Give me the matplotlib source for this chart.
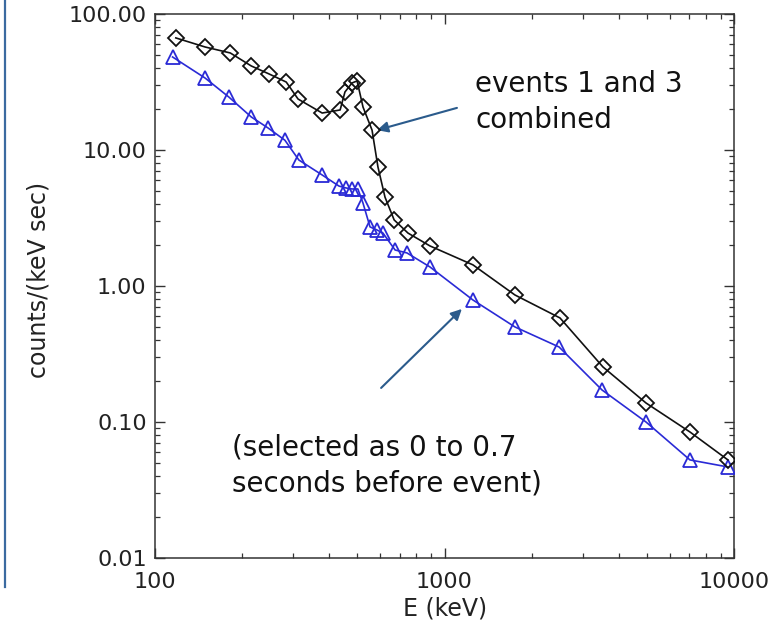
import matplotlib
matplotlib.use("Agg")
import matplotlib.pyplot as plt
from matplotlib.ticker import FixedLocator, FixedFormatter, LogLocator, NullFormatter

# ---- data ----
energy_combined = [118, 149, 182, 215, 248, 284, 312, 378, 436, 453, 479, 499, 523,
                   562, 589, 623, 670, 748, 891, 1254, 1751, 2506, 3526, 4966, 7047, 9530]
counts_combined = [66.7, 57.2, 51.7, 41.5, 36.2, 31.6, 23.7, 18.7, 19.7, 26.7, 31.1, 32.2, 20.7,
                   14.0, 7.5, 4.5, 3.06, 2.45, 1.97, 1.43, 0.859, 0.582, 0.254, 0.138, 0.0844, 0.0526]

energy_before = [115, 149, 180, 215, 246, 281, 314, 378, 432, 457, 479, 502, 523,
                 553, 585, 613, 675, 742, 891, 1254, 1751, 2488, 3500, 4966, 7047, 9530]
counts_before = [48.3, 33.8, 24.5, 17.5, 14.5, 11.8, 8.44, 6.55, 5.43, 5.26, 5.17, 5.17, 4.07,
                 2.72, 2.58, 2.45, 1.84, 1.75, 1.38, 0.789, 0.500, 0.356, 0.172, 0.100, 0.0526, 0.0467]

x_ticks = [100, 1000, 10000]
x_ticklabels = ["100", "1000", "10000"]
y_ticks = [0.01, 0.1, 1, 10, 100]
y_ticklabels = ["0.01", "0.10", "1.00", "10.00", "100.00"]

label_combined = ["events 1 and 3", "combined"]
label_before = ["(selected as 0 to 0.7", "seconds before event)"]

# ---- figure ----
W, H = 778, 627
fig = plt.figure(figsize=(W / 100, H / 100), dpi=100)
ax = fig.add_axes([155 / W, 1 - 558 / H, (734 - 155) / W, (558 - 14) / H])

blue = "#2a2ad6"
ax.plot(energy_before, counts_before, color=blue, lw=1.2, marker="^", ms=10,
        mfc="none", mec=blue, mew=1.3, zorder=3)
ax.plot(energy_combined, counts_combined, color="#111111", lw=1.2, marker="D", ms=8,
        mfc="none", mec="#111111", mew=1.3, zorder=4)

ax.set_xscale("log")
ax.set_yscale("log")
ax.set_xlim(100, 10000)
ax.set_ylim(0.01, 100)

ax.xaxis.set_major_locator(FixedLocator(x_ticks))
ax.xaxis.set_major_formatter(FixedFormatter(x_ticklabels))
ax.yaxis.set_major_locator(FixedLocator(y_ticks))
ax.yaxis.set_major_formatter(FixedFormatter(y_ticklabels))
ax.xaxis.set_minor_locator(LogLocator(base=10, subs=range(2, 10)))
ax.yaxis.set_minor_locator(LogLocator(base=10, subs=range(2, 10)))
ax.xaxis.set_minor_formatter(NullFormatter())
ax.yaxis.set_minor_formatter(NullFormatter())

ax.tick_params(which="both", direction="in", top=True, right=True,
               colors="#333333", labelcolor="#222222", labelsize=16)
ax.tick_params(which="major", length=7, width=1.0, pad=6)
ax.tick_params(axis="x", which="major", pad=10)
ax.tick_params(which="minor", length=3.8, width=0.9)
for s in ax.spines.values():
    s.set_color("#333333")
    s.set_linewidth(1.1)

ax.set_xlabel("E (keV)", fontsize=17, color="#222222", va="center")
ax.xaxis.set_label_coords(0.501, -0.092)
ax.set_ylabel("counts/(keV sec)", fontsize=17, color="#222222", va="center")
ax.yaxis.set_label_coords(-0.202, 0.511)

arrow_color = "#2b5b8c"
ax.annotate("", xy=(585, 14.0), xytext=(1104, 20.4),
            arrowprops=dict(arrowstyle="-|>", color=arrow_color, lw=1.5,
                            mutation_scale=16, shrinkA=0, shrinkB=0))
ax.annotate("", xy=(1148, 0.678), xytext=(604, 0.178),
            arrowprops=dict(arrowstyle="-|>", color=arrow_color, lw=1.5,
                            mutation_scale=16, shrinkA=0, shrinkB=0))

ax.text(0.553, 0.857, label_combined[0], transform=ax.transAxes, fontsize=20,
        va="baseline", ha="left", color="#111111")
ax.text(0.553, 0.790, label_combined[1], transform=ax.transAxes, fontsize=20,
        va="baseline", ha="left", color="#111111")
ax.text(0.133, 0.189, label_before[0], transform=ax.transAxes, fontsize=20,
        va="baseline", ha="left", color="#111111")
ax.text(0.133, 0.123, label_before[1], transform=ax.transAxes, fontsize=20,
        va="baseline", ha="left", color="#111111")

# left vertical rule of the slide
fig.add_artist(plt.Line2D([5 / W, 5 / W], [1.0, 1 - 587 / H], transform=fig.transFigure,
                          color="#3b6aa0", lw=1.6))

fig.savefig("out.png", dpi=100)
